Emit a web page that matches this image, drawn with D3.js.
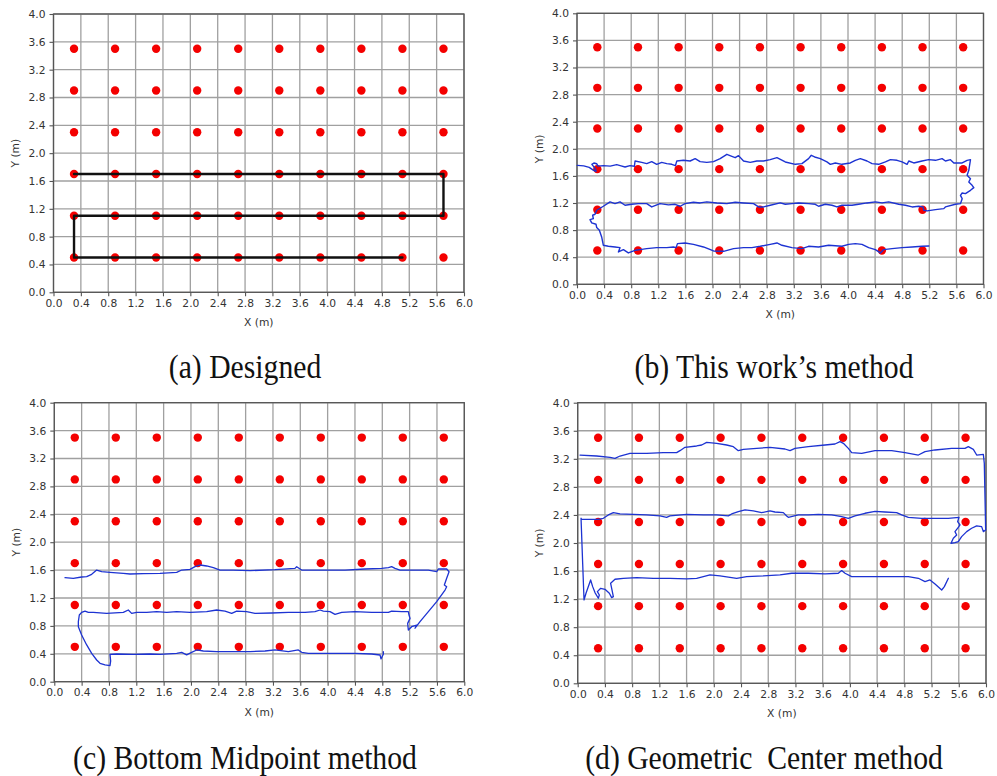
<!DOCTYPE html>
<html>
<head>
<meta charset="utf-8">
<script src="https://cdn.jsdelivr.net/npm/d3@7"></script>
<style>
  body { margin: 0; background: #fff; }
  svg { display: block; }
</style>
</head>
<body>
<svg id="fig" width="997" height="776"></svg>
<script>
// Axis tick labels (metres)
const xTickLabels = ["0.0","0.4","0.8","1.2","1.6","2.0","2.4","2.8","3.2","3.6","4.0","4.4","4.8","5.2","5.6","6.0"];
const yTickLabels = ["0.0","0.4","0.8","1.2","1.6","2.0","2.4","2.8","3.2","3.6","4.0"];

// Reference marker positions on the floor (metres)
const refX = [0.3, 0.9, 1.5, 2.1, 2.7, 3.3, 3.9, 4.5, 5.1, 5.7];
const refY = [0.5, 1.1, 1.7, 2.3, 2.9, 3.5];

// Planned walking route
const designedPath = [[0.3,1.7],[5.7,1.7],[5.7,1.1],[0.3,1.1],[0.3,0.5],[5.1,0.5]];

// Estimated trajectory: this work's method
const thisWorkPath = [
  [0.005,1.756],[0.10,1.748],[0.18,1.725],[0.24,1.685],[0.28,1.665],[0.275,1.70],[0.22,1.77],[0.25,1.791],
  [0.29,1.78],[0.31,1.745],[0.389,1.751],[0.49,1.745],[0.586,1.766],[0.65,1.748],[0.709,1.732],[0.783,1.751],
  [0.847,1.742],[0.857,1.82],[0.956,1.80],[1.029,1.781],[1.103,1.81],[1.177,1.771],[1.251,1.80],[1.325,1.781],
  [1.399,1.771],[1.453,1.751],[1.473,1.82],[1.571,1.83],[1.67,1.82],[1.744,1.855],[1.817,1.81],[1.916,1.80],
  [2.015,1.81],[2.113,1.855],[2.212,1.919],[2.286,1.889],[2.335,1.869],[2.384,1.899],[2.458,1.82],[2.557,1.80],
  [2.655,1.82],[2.754,1.82],[2.852,1.84],[2.951,1.869],[3.074,1.806],[3.222,1.771],[3.32,1.781],[3.418,1.855],
  [3.458,1.904],[3.508,1.879],[3.591,1.855],[3.689,1.806],[3.739,1.771],[3.813,1.791],[3.911,1.771],[4.034,1.791],
  [4.108,1.830],[4.182,1.855],[4.281,1.820],[4.355,1.781],[4.453,1.771],[4.552,1.806],[4.626,1.840],[4.724,1.830],
  [4.798,1.806],[4.872,1.771],[4.897,1.820],[4.971,1.791],[5.093,1.820],[5.192,1.840],[5.291,1.830],[5.389,1.855],
  [5.438,1.820],[5.512,1.840],[5.562,1.791],[5.685,1.791],[5.758,1.830],[5.808,1.840],[5.783,1.683],[5.758,1.609],
  [5.808,1.559],[5.783,1.510],[5.832,1.461],[5.857,1.427],[5.808,1.387],[5.734,1.338],[5.685,1.348],[5.660,1.313],
  [5.685,1.264],[5.660,1.190],[5.586,1.181],[5.438,1.142],[5.414,1.117],[5.291,1.102],[5.168,1.083],[5.118,1.093],
  [5.108,1.142],[5.044,1.152],[4.946,1.142],[4.848,1.167],[4.749,1.181],[4.601,1.216],[4.503,1.201],[4.404,1.216],
  [4.281,1.201],[4.157,1.181],[4.059,1.167],[3.911,1.167],[3.837,1.142],[3.763,1.167],[3.665,1.181],[3.566,1.152],
  [3.517,1.181],[3.418,1.191],[3.271,1.201],[3.172,1.191],[3.074,1.181],[3.0,1.201],[2.852,1.167],[2.754,1.142],
  [2.68,1.142],[2.606,1.191],[2.458,1.201],[2.335,1.211],[2.212,1.191],[2.064,1.201],[1.916,1.216],[1.817,1.201],
  [1.719,1.211],[1.596,1.191],[1.522,1.152],[1.448,1.181],[1.35,1.172],[1.226,1.191],[1.103,1.142],[1.029,1.191],
  [0.906,1.191],[0.808,1.181],[0.709,1.167],[0.635,1.216],[0.561,1.191],[0.488,1.216],[0.389,1.152],[0.291,1.093],
  [0.266,1.034],[0.231,1.019],[0.241,0.970],[0.192,0.955],[0.217,0.906],[0.281,0.886],[0.291,0.837],[0.330,0.797],
  [0.364,0.699],[0.389,0.576],[0.463,0.561],[0.561,0.551],[0.635,0.541],[0.611,0.477],[0.685,0.512],[0.758,0.463],
  [0.857,0.502],[0.931,0.512],[1.029,0.526],[1.177,0.541],[1.325,0.541],[1.423,0.551],[1.463,0.541],[1.483,0.600],
  [1.596,0.610],[1.719,0.590],[1.867,0.551],[2.015,0.492],[2.163,0.487],[2.311,0.526],[2.458,0.541],[2.581,0.541],
  [2.705,0.561],[2.852,0.590],[2.951,0.610],[3.025,0.576],[3.172,0.541],[3.32,0.526],[3.418,0.561],[3.566,0.551],
  [3.714,0.576],[3.911,0.561],[4.009,0.590],[4.108,0.600],[4.206,0.590],[4.305,0.541],[4.404,0.512],[4.478,0.463],
  [4.527,0.512],[4.650,0.526],[4.798,0.541],[4.946,0.551],[5.093,0.561],[5.192,0.566]
];

// Estimated trajectory: bottom midpoint method
const bottomMidpointPath = [
  [0.157,1.492],[0.278,1.482],[0.40,1.501],[0.474,1.506],[0.547,1.539],[0.62,1.601],[0.693,1.577],[0.815,1.568],
  [1.010,1.554],[1.108,1.544],[1.303,1.549],[1.547,1.554],[1.791,1.568],[1.864,1.601],[1.986,1.611],[2.059,1.649],
  [2.132,1.673],[2.23,1.659],[2.327,1.635],[2.425,1.601],[2.62,1.601],[2.864,1.592],[3.23,1.606],[3.522,1.625],
  [3.547,1.649],[3.62,1.601],[3.913,1.601],[4.254,1.601],[4.547,1.616],[4.791,1.625],[4.889,1.635],[4.937,1.649],
  [4.986,1.625],[5.059,1.601],[5.23,1.601],[5.474,1.601],[5.596,1.577],[5.62,1.616],[5.742,1.616],[5.777,1.577],
  [5.742,1.482],[5.708,1.386],[5.742,1.362],[5.718,1.314],[5.596,1.147],[5.474,1.004],[5.352,0.861],[5.279,0.767],
  [5.303,0.812],[5.23,0.789],[5.181,0.741],[5.171,0.836],[5.206,0.908],[5.191,0.956],[5.181,1.004],[5.084,1.004],
  [4.937,1.013],[4.889,0.994],[4.645,0.994],[4.401,1.004],[4.206,0.994],[4.108,0.966],[4.035,1.004],[3.937,1.013],
  [3.889,1.028],[3.815,1.004],[3.669,0.994],[3.425,0.994],[3.181,0.985],[2.937,0.980],[2.815,1.004],[2.669,1.013],
  [2.596,0.980],[2.498,1.013],[2.376,1.028],[2.23,1.004],[1.986,0.994],[1.791,1.004],[1.645,0.994],[1.498,1.004],
  [1.352,0.994],[1.205,0.994],[1.132,0.980],[1.083,1.028],[1.01,0.994],[0.766,0.980],[0.571,0.994],[0.498,0.994],
  [0.449,1.013],[0.40,0.994],[0.366,0.956],[0.352,0.861],[0.352,0.789],[0.40,0.670],[0.474,0.527],[0.547,0.407],
  [0.62,0.311],[0.669,0.264],[0.742,0.240],[0.815,0.230],[0.825,0.297],[0.815,0.393],[0.913,0.397],[1.157,0.393],
  [1.40,0.397],[1.547,0.393],[1.791,0.407],[1.864,0.421],[1.937,0.385],[2.01,0.421],[2.083,0.455],[2.181,0.440],
  [2.376,0.431],[2.62,0.431],[2.864,0.431],[3.084,0.440],[3.23,0.455],[3.425,0.431],[3.571,0.455],[3.62,0.421],
  [3.718,0.407],[3.913,0.407],[4.157,0.407],[4.401,0.407],[4.645,0.397],[4.767,0.383],[4.781,0.326],[4.815,0.393],
  [4.815,0.431]
];

// Estimated trajectory: geometric center method
const geometricCenterPath = [
  [0.034,3.254],[0.279,3.240],[0.475,3.221],[0.548,3.207],[0.622,3.240],[0.769,3.278],[1.014,3.278],[1.258,3.288],
  [1.454,3.288],[1.503,3.316],[1.577,3.364],[1.748,3.383],[1.822,3.397],[1.895,3.435],[2.042,3.421],[2.189,3.397],
  [2.287,3.373],[2.36,3.316],[2.434,3.335],[2.63,3.349],[2.826,3.364],[3.046,3.340],[3.12,3.316],[3.193,3.349],
  [3.389,3.373],[3.634,3.397],[3.781,3.411],[3.855,3.445],[3.904,3.421],[3.977,3.349],[4.026,3.288],[4.173,3.278],
  [4.369,3.316],[4.614,3.316],[4.81,3.288],[5.006,3.254],[5.104,3.302],[5.251,3.326],[5.495,3.349],[5.691,3.349],
  [5.74,3.373],[5.814,3.335],[5.863,3.254],[5.961,3.264],[5.975,3.135],[5.985,2.660],[5.995,2.186],[5.961,2.162],
  [5.936,2.233],[5.863,2.243],[5.789,2.210],[5.716,2.162],[5.642,2.091],[5.593,2.020],[5.544,2.005],[5.486,1.996],
  [5.52,2.067],[5.569,2.115],[5.544,2.162],[5.593,2.224],[5.618,2.257],[5.583,2.305],[5.603,2.366],[5.446,2.352],
  [5.251,2.352],[5.055,2.352],[4.859,2.366],[4.761,2.400],[4.687,2.433],[4.516,2.442],[4.369,2.452],[4.222,2.424],
  [4.075,2.386],[3.977,2.352],[3.879,2.376],[3.732,2.400],[3.536,2.409],[3.389,2.400],[3.242,2.400],[3.095,2.366],
  [3.071,2.386],[3.022,2.433],[2.899,2.442],[2.826,2.457],[2.703,2.433],[2.581,2.457],[2.459,2.471],[2.36,2.447],
  [2.262,2.414],[2.214,2.386],[2.042,2.400],[1.846,2.400],[1.601,2.409],[1.356,2.386],[1.307,2.366],[1.209,2.386],
  [1.013,2.400],[0.818,2.409],[0.622,2.414],[0.524,2.433],[0.45,2.400],[0.377,2.352],[0.303,2.338],[0.181,2.338],
  [0.058,2.338],[0.049,2.352],[0.073,1.711],[0.093,1.188],[0.122,1.283],[0.19,1.473],[0.22,1.378],[0.254,1.293],
  [0.303,1.212],[0.318,1.259],[0.289,1.307],[0.338,1.354],[0.401,1.340],[0.465,1.283],[0.499,1.221],[0.524,1.236],
  [0.484,1.426],[0.548,1.483],[0.671,1.497],[0.867,1.507],[1.111,1.497],[1.356,1.497],[1.601,1.488],[1.748,1.497],
  [1.846,1.521],[1.944,1.545],[2.091,1.530],[2.336,1.497],[2.483,1.521],[2.728,1.530],[2.973,1.545],[3.145,1.569],
  [3.389,1.569],[3.634,1.559],[3.83,1.569],[3.879,1.607],[3.928,1.569],[4.026,1.521],[4.271,1.521],[4.516,1.521],
  [4.859,1.521],[5.006,1.497],[5.104,1.450],[5.177,1.473],[5.251,1.416],[5.349,1.330],[5.388,1.378],[5.447,1.497]
];

const captions = ["(a) Designed", "(b) This work\u2019s method", "(c) Bottom Midpoint method", "(d) Geometric  Center method"];

// Panel frames in page pixels, plus caption anchor
const panels = [
  { left: 53.5, right: 464.0, top: 14.0,  bottom: 292.3, path: designedPath,        stroke: "#111", width: 2.4, capX: 245, capY: 378 },
  { left: 577.0, right: 983.5, top: 13.3, bottom: 284.3, path: thisWorkPath,        stroke: "#1d33d2", width: 1.4, capX: 774, capY: 378 },
  { left: 54.3, right: 464.3, top: 402.7, bottom: 681.7, path: bottomMidpointPath,  stroke: "#1d33d2", width: 1.3, capX: 245, capY: 769 },
  { left: 577.7, right: 986.0, top: 402.7, bottom: 683.3, path: geometricCenterPath, stroke: "#1d33d2", width: 1.3, capX: 764, capY: 769 }
];

const svg = d3.select("#fig");
const tickFont = '"DejaVu Sans", sans-serif';
const xTickVals = xTickLabels.map(Number);
const yTickVals = yTickLabels.map(Number);

panels.forEach((p, i) => {
  const x = d3.scaleLinear().domain([0, 6]).range([p.left, p.right]);
  const y = d3.scaleLinear().domain([0, 4]).range([p.bottom, p.top]);
  const g = svg.append("g");

  // grid
  g.append("g").selectAll("line").data(xTickVals).join("line")
    .attr("x1", d => x(d)).attr("x2", d => x(d))
    .attr("y1", p.top).attr("y2", p.bottom)
    .attr("stroke", "#a0a0a0").attr("stroke-width", 1.3);
  g.append("g").selectAll("line").data(yTickVals).join("line")
    .attr("y1", d => y(d)).attr("y2", d => y(d))
    .attr("x1", p.left).attr("x2", p.right)
    .attr("stroke", "#a0a0a0").attr("stroke-width", 1.3);

  // axes
  const ax = g.append("g").attr("transform", `translate(0,${p.bottom})`)
    .call(d3.axisBottom(x).tickValues(xTickVals).tickFormat((d, k) => xTickLabels[k])
      .tickSizeInner(4).tickSizeOuter(0).tickPadding(3));
  const ay = g.append("g").attr("transform", `translate(${p.left},0)`)
    .call(d3.axisLeft(y).tickValues(yTickVals).tickFormat((d, k) => yTickLabels[k])
      .tickSizeInner(4).tickSizeOuter(0).tickPadding(4));
  [ax, ay].forEach(a => {
    a.select(".domain").remove();
    a.selectAll(".tick line").attr("stroke", "#555").attr("stroke-width", 1.1);
    a.selectAll(".tick text").attr("fill", "#333").style("font-family", tickFont).style("font-size", "10.7px");
  });

  // frame
  g.append("rect").attr("x", p.left).attr("y", p.top)
    .attr("width", p.right - p.left).attr("height", p.bottom - p.top)
    .attr("fill", "none").attr("stroke", "#555").attr("stroke-width", 1.3);

  // axis titles
  g.append("text").attr("x", (p.left + p.right) / 2).attr("y", p.bottom + 34)
    .attr("text-anchor", "middle").attr("fill", "#333")
    .style("font-family", tickFont).style("font-size", "10.7px").text("X (m)");
  g.append("text")
    .attr("transform", `translate(${p.left - 34.5},${(p.top + p.bottom) / 2}) rotate(-90)`)
    .attr("text-anchor", "middle").attr("fill", "#333")
    .style("font-family", tickFont).style("font-size", "10.7px").text("Y (m)");

  // reference markers
  const pts = d3.cross(refX, refY);
  g.append("g").selectAll("circle").data(pts).join("circle")
    .attr("cx", d => x(d[0])).attr("cy", d => y(d[1])).attr("r", 4.2)
    .attr("fill", "#f40000");

  // trajectory
  const line = d3.line().x(d => x(d[0])).y(d => y(d[1]));
  g.append("path").datum(p.path).attr("d", line)
    .attr("fill", "none").attr("stroke", p.stroke).attr("stroke-width", p.width)
    .attr("stroke-linejoin", "round").attr("stroke-linecap", "round");

  // caption (narrow serif face)
  svg.append("text")
    .attr("transform", `translate(${p.capX},${p.capY}) scale(0.9,1)`)
    .attr("text-anchor", "middle").attr("fill", "#111")
    .style("font-family", '"Liberation Serif", "Times New Roman", serif')
    .style("font-size", "33px").style("white-space", "pre")
    .text(captions[i]);
});
</script>
</body>
</html>
